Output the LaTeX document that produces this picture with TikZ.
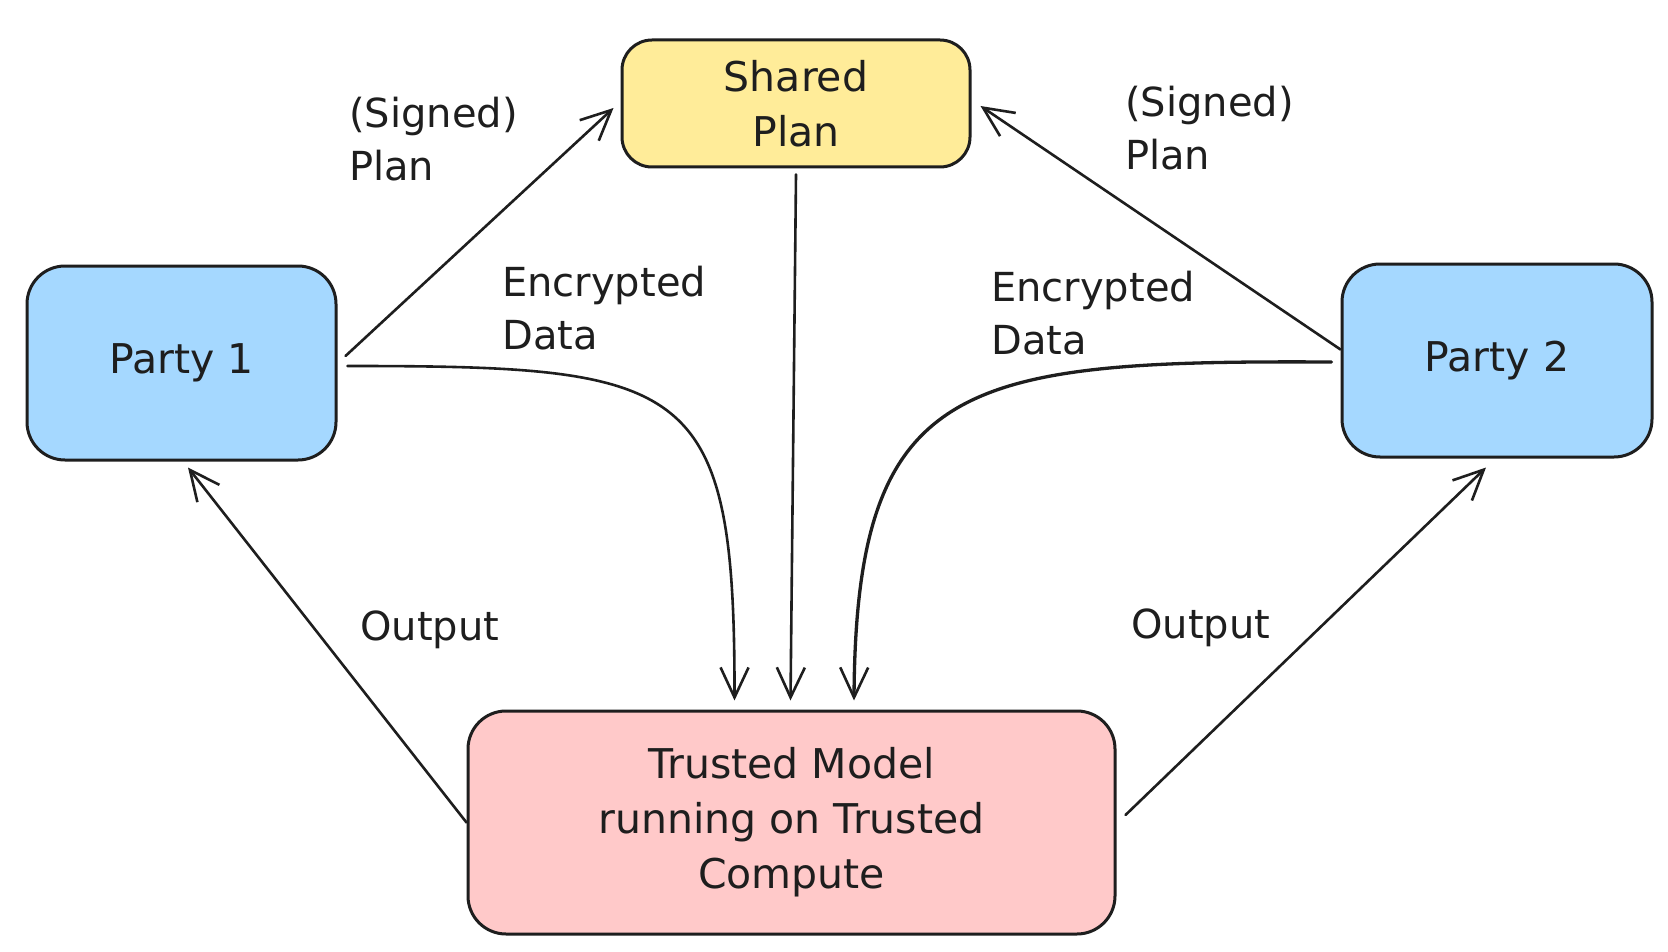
\documentclass[tikz,border=0pt]{standalone}
\usepackage{fontspec}
\setmainfont{DejaVu Sans}
\usetikzlibrary{arrows.meta}
\definecolor{ink}{HTML}{1E1E1E}
\definecolor{pblue}{HTML}{A5D8FF}
\definecolor{pyellow}{HTML}{FFEC99}
\definecolor{ppink}{HTML}{FFC9C9}
\begin{document}
\begin{tikzpicture}[x=1pt,y=-1pt,
  box/.style={draw=ink, line width=3pt, rounded corners=38pt, align=center, inner sep=0pt,
    font=\fontsize{41}{55}\selectfont, text=ink},
  lbl/.style={font=\fontsize{40}{53}\selectfont, text=ink, align=left, inner sep=0pt, anchor=base west},
  conn/.style={draw=ink, line width=2.6pt, line cap=round,
    -{Straight Barb[length=30pt,width=28pt,line width=2.6pt]}}
]
\useasboundingbox[fill=white] (0,0) rectangle (1668,952);

\node[box, fill=pblue, minimum width=309pt, minimum height=194pt] (p1) at (181.5,363) {Party 1};
\node[box, fill=pblue, minimum width=310pt, minimum height=193pt] (p2) at (1497,360.5) {Party 2};
\node[box, fill=pyellow, rounded corners=30pt, minimum width=348pt, minimum height=127pt] (sp) at (796,103.5) {Shared\\Plan};
\node[box, fill=ppink, minimum width=647pt, minimum height=223pt] (tm) at (791.5,822.5) {Trusted Model\\running on Trusted\\Compute};

\node[lbl] (l1) at (349,181) {(Signed)\\Plan};
\node[lbl] (l2) at (1125,170) {(Signed)\\Plan};
\node[lbl] (l3) at (502,349) {Encrypted\\Data};
\node[lbl] (l4) at (991,354) {Encrypted\\Data};
\node[lbl] (l5) at (360,640) {Output};
\node[lbl] (l6) at (1131,638) {Output};

\draw[conn] ([shift={(8,-7)}]p1.east) -- ([shift={(-7,4.5)}]sp.west);
\draw[conn] ([shift={(0,-11)}]p2.west) -- ([shift={(9,2.5)}]sp.east);
\draw[conn] ([shift={(0,6)}]sp.south) -- ([shift={(-1,-9)}]tm.north);
\draw[conn] ([shift={(10,3)}]p1.east) .. controls (690,366) and (735,380) .. ([shift={(-57,-9)}]tm.north);
\draw[conn, line width=3.3pt] ([shift={(-9,1.5)}]p2.west) .. controls (960,360) and (856,380) .. ([shift={(62.5,-9)}]tm.north);
\draw[conn] (tm.west) -- ([shift={(6.5,6)}]p1.south);
\draw[conn] ([shift={(9,-7.5)}]tm.east) -- ([shift={(-11,9)}]p2.south);
\end{tikzpicture}
\end{document}
